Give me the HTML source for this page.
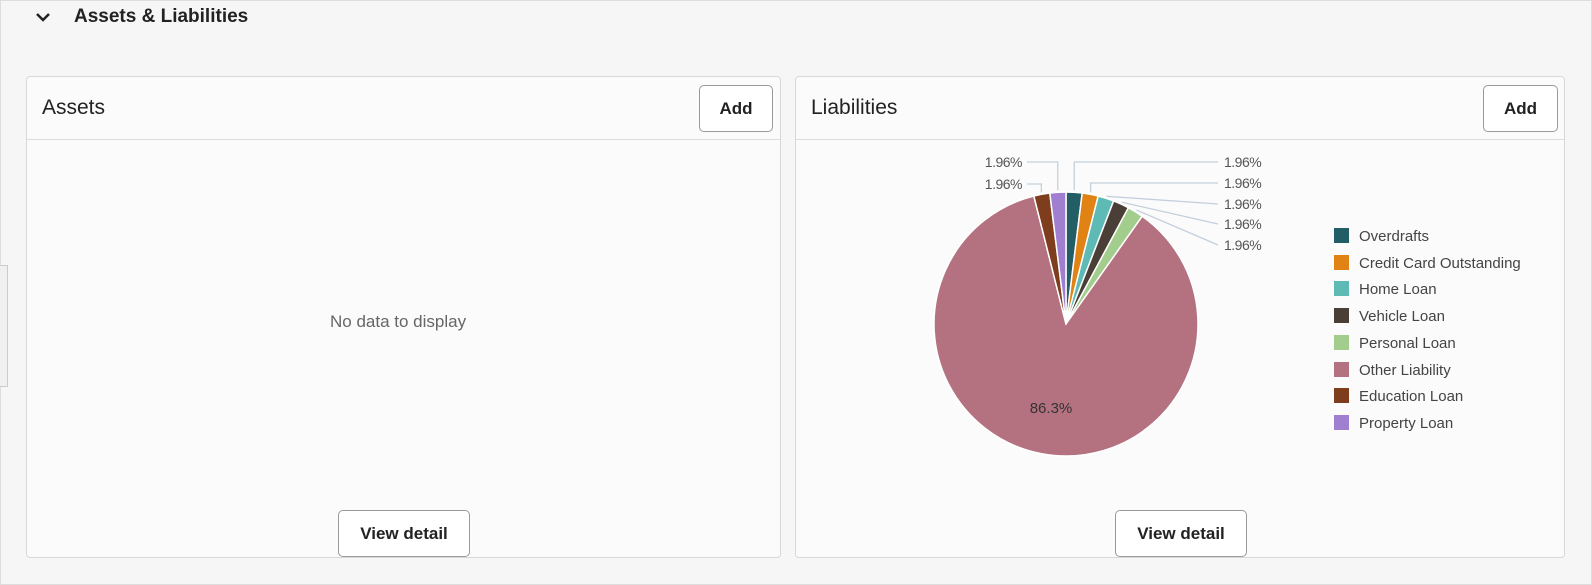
<!DOCTYPE html>
<html><head><meta charset="utf-8"><style>
body{margin:0;width:1592px;height:585px;background:#f6f6f6;font-family:"Liberation Sans",sans-serif;position:relative;overflow:hidden}
.abs{position:absolute}
.panel{position:absolute;background:rgba(252,252,252,0.75);border:1px solid #d8d8d8;border-radius:4px}
.btn{position:absolute;border:1px solid #9a9a9a;border-radius:5px;background:#fff;font-size:17px;font-weight:bold;color:#222;display:flex;align-items:center;justify-content:center}
.ttl{position:absolute;font-size:21px;color:#222}
</style></head><body>
<div class="abs" style="left:0;top:0;width:1592px;height:585px;border:1px solid #ddd;box-sizing:border-box"></div>
<div class="abs" style="left:0;top:265px;width:7px;height:120px;border:1px solid #ccc;border-left:none;background:#f0f0f0"></div>
<svg class="abs" style="left:34px;top:10px" width="18" height="14"><polyline points="3,4 9,10 15,4" fill="none" stroke="#222" stroke-width="2.5"/></svg>
<div class="abs" style="left:74px;top:6px;font-size:19px;font-weight:bold;color:#222">Assets &amp; Liabilities</div>

<div class="panel" style="left:26px;top:76px;width:753px;height:480px"></div>
<div class="abs" style="left:27px;top:139px;width:753px;height:1px;background:#dcdcdc"></div>
<div class="ttl" style="left:42px;top:96px">Assets</div>
<div class="btn" style="left:699px;top:85px;width:72px;height:45px">Add</div>
<div class="abs" style="left:330px;top:312px;font-size:17px;color:#666">No data to display</div>
<div class="btn" style="left:338px;top:510px;width:130px;height:45px">View detail</div>

<div class="panel" style="left:795px;top:76px;width:768px;height:480px"></div>
<div class="abs" style="left:796px;top:139px;width:768px;height:1px;background:#dcdcdc"></div>
<div class="ttl" style="left:811px;top:96px">Liabilities</div>
<div class="btn" style="left:1483px;top:85px;width:73px;height:45px">Add</div>
<div class="btn" style="left:1115px;top:510px;width:130px;height:45px">View detail</div>

<svg id="pie" class="abs" style="left:0;top:0" width="1592" height="585" font-family="Liberation Sans, sans-serif"></svg>
<div class="abs" style="left:1334px;top:224px;font-size:15px;color:#444;line-height:26.7px">
<div><span style="display:inline-block;width:15px;height:15px;background:#235e66;vertical-align:-2px;margin-right:10px"></span>Overdrafts</div>
<div><span style="display:inline-block;width:15px;height:15px;background:#e08214;vertical-align:-2px;margin-right:10px"></span>Credit Card Outstanding</div>
<div><span style="display:inline-block;width:15px;height:15px;background:#5ebab5;vertical-align:-2px;margin-right:10px"></span>Home Loan</div>
<div><span style="display:inline-block;width:15px;height:15px;background:#4a3f36;vertical-align:-2px;margin-right:10px"></span>Vehicle Loan</div>
<div><span style="display:inline-block;width:15px;height:15px;background:#a3cd8c;vertical-align:-2px;margin-right:10px"></span>Personal Loan</div>
<div><span style="display:inline-block;width:15px;height:15px;background:#b47180;vertical-align:-2px;margin-right:10px"></span>Other Liability</div>
<div><span style="display:inline-block;width:15px;height:15px;background:#7e3d1c;vertical-align:-2px;margin-right:10px"></span>Education Loan</div>
<div><span style="display:inline-block;width:15px;height:15px;background:#a07fd0;vertical-align:-2px;margin-right:10px"></span>Property Loan</div>
</div>
<script>
var s=document.getElementById('pie'),cx=1066,cy=324,r=132;
var cols=['#235e66','#e08214','#5ebab5','#4a3f36','#a3cd8c','#b47180','#7e3d1c','#a07fd0'];
var v=[1.96,1.96,1.96,1.96,1.96,86.28,1.96,1.96];
function P(a,rr){a=a*Math.PI/180;return [cx+rr*Math.sin(a),cy-rr*Math.cos(a)];}
var h='',a=0,mids=[];
for(var i=0;i<8;i++){var d=v[i]*3.6,p1=P(a,r),p2=P(a+d,r);
h+='<path d="M'+cx+','+cy+'L'+p1[0]+','+p1[1]+'A'+r+','+r+' 0 '+(d>180?1:0)+' 1 '+p2[0]+','+p2[1]+'Z" fill="'+cols[i]+'" stroke="#fff" stroke-width="1.5"/>';
mids.push(a+d/2);a+=d;}
var ry=[162,183,204,224,245];
for(var i=0;i<5;i++){var m=P(mids[i],r+2);
h+='<polyline points="'+m[0]+','+m[1]+' '+(i<2?m[0]+','+(ry[i]):'')+' 1218,'+ry[i]+'" fill="none" stroke="#c4cfdc" stroke-width="1.3"/>';
h+='<text x="1224" y="'+(ry[i]+5)+'" font-size="14" fill="#555" letter-spacing="-0.5">1.96%</text>';}
var ly=[162,184];var li=[7,6];
for(var j=0;j<2;j++){var m=P(mids[li[j]],r+2);
h+='<polyline points="'+m[0]+','+m[1]+' '+m[0]+','+ly[j]+' 1027,'+ly[j]+'" fill="none" stroke="#c4cfdc" stroke-width="1.3"/>';
h+='<text x="1022" y="'+(ly[j]+5)+'" font-size="14" fill="#555" text-anchor="end" letter-spacing="-0.5">1.96%</text>';}
h+='<text x="1051" y="413" font-size="15" fill="#333" text-anchor="middle">86.3%</text>';
s.innerHTML=h;
</script>
</body></html>
